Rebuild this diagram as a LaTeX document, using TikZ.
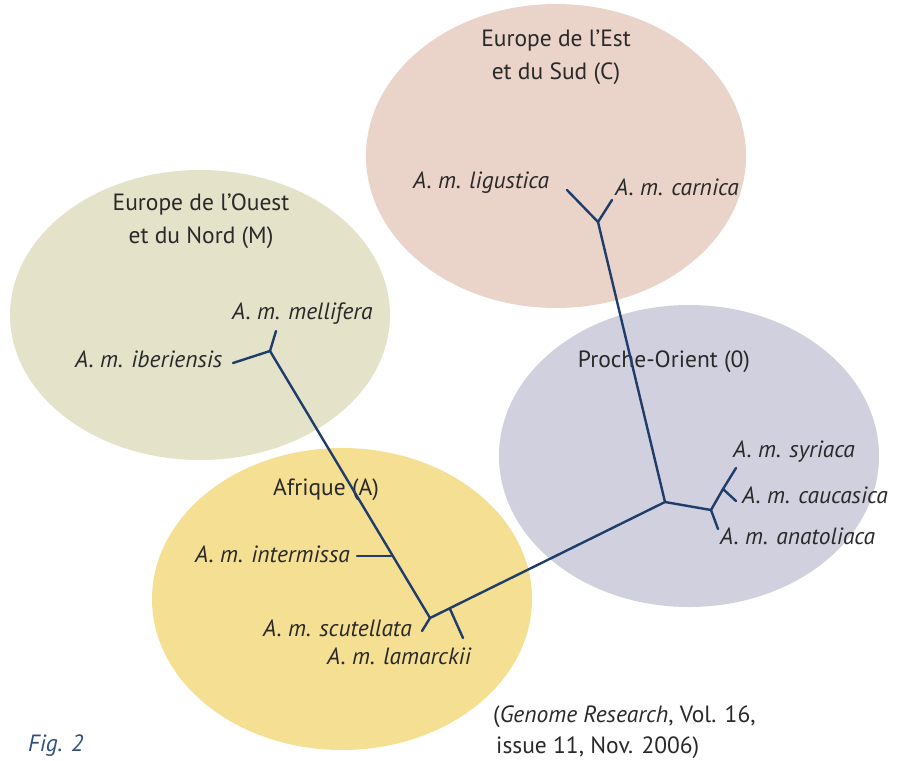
\documentclass[tikz,border=0pt]{standalone}
\usepackage{fontspec}
\setmainfont{PT Sans}
\begin{document}
\begin{tikzpicture}[x=1pt,y=-1pt,
  txt/.style={inner sep=0pt,text=black!84,font=\fontsize{23.5}{28}\selectfont},
  sp/.style={txt,anchor=base west,font=\fontsize{23.5}{28}\selectfont\itshape},
  ttl/.style={txt,anchor=base,align=center},
  br/.style={draw=treeblue,line width=2.4pt,line cap=round,line join=round}]
\definecolor{treeblue}{HTML}{1F3D6B}
\definecolor{cM}{HTML}{E4E2C9}
\definecolor{cC}{HTML}{EAD3C9}
\definecolor{cO}{HTML}{D0D0DE}
\definecolor{cA}{HTML}{F4DF92}
\definecolor{figblue}{HTML}{2E4F80}
\useasboundingbox (0,0) rectangle (901,760);
% ellipses
\fill[cM] (200,315) ellipse [x radius=190, y radius=145];
\fill[cC] (556,156) ellipse [x radius=190, y radius=152];
\fill[cO] (689,456) ellipse [x radius=190, y radius=151];
\fill[cA] (342,599) ellipse [x radius=190, y radius=151];
% titles
\node[ttl] (tM1) at (201,210) {Europe de l’Ouest};
\node[ttl] (tM2) at (201,243) {et du Nord (M)};
\node[ttl] (tC1) at (556,46) {Europe de l’Est};
\node[ttl] (tC2) at (556,79) {et du Sud (C)};
\node[ttl] (tO) at (664,367) {Proche-Orient (0)};
\node[ttl] (tA) at (326,495) {Afrique (A)};
% species labels
\node[sp] (mel) at (232,319) {A. m. mellifera};
\node[sp] (ibe) at (75,367) {A. m. iberiensis};
\node[sp] (lig) at (413,188) {A. m. ligustica};
\node[sp] (car) at (615,195) {A. m. carnica};
\node[sp] (syr) at (733,457) {A. m. syriaca};
\node[sp] (cau) at (742,503) {A. m. caucasica};
\node[sp] (ana) at (720,544) {A. m. anatoliaca};
\node[sp] (int) at (195,562) {A. m. intermissa};
\node[sp] (scu) at (263,636) {A. m. scutellata};
\node[sp] (lam) at (327,664) {A. m. lamarckii};
% tree
\coordinate (nM) at (270,351);
\coordinate (lMel) at (276,331);
\coordinate (lIbe) at (233,363);
\coordinate (nC) at (598,222);
\coordinate (lLig) at (567,190);
\coordinate (lCar) at (612,200);
\coordinate (nO) at (665,502);
\coordinate (nO2) at (711,510);
\coordinate (nO3) at (723,489);
\coordinate (lSyr) at (736,468);
\coordinate (lCau) at (736,501);
\coordinate (lAna) at (718,529);
\coordinate (nInt) at (391,556);
\coordinate (lInt) at (357,556);
\coordinate (nA) at (430,618);
\coordinate (lScu) at (422,631);
\coordinate (nLam) at (450,609);
\coordinate (lLam) at (463,638);
\draw[br] (lMel) -- (nM) -- (lIbe);
\draw[br] (nM) -- (nA);
\draw[br] (lInt) -- (nInt);
\draw[br] (lScu) -- (nA) -- (nO);
\draw[br] (nLam) -- (lLam);
\draw[br] (lLig) -- (nC) -- (lCar);
\draw[br] (nC) -- (nO) -- (nO2) -- (lAna);
\draw[br] (nO2) -- (nO3) -- (lSyr);
\draw[br] (nO3) -- (lCau);
% captions
\node[txt,anchor=base west,text=figblue,font=\fontsize{23.5}{28}\selectfont\itshape] (fig) at (28,751) {Fig. 2};
\node[txt,anchor=base west] (ref1) at (493,722) {(\textit{Genome Research}, Vol. 16,};
\node[txt,anchor=base west] (ref2) at (496,753) {issue 11, Nov. 2006)};
\end{tikzpicture}
\end{document}
